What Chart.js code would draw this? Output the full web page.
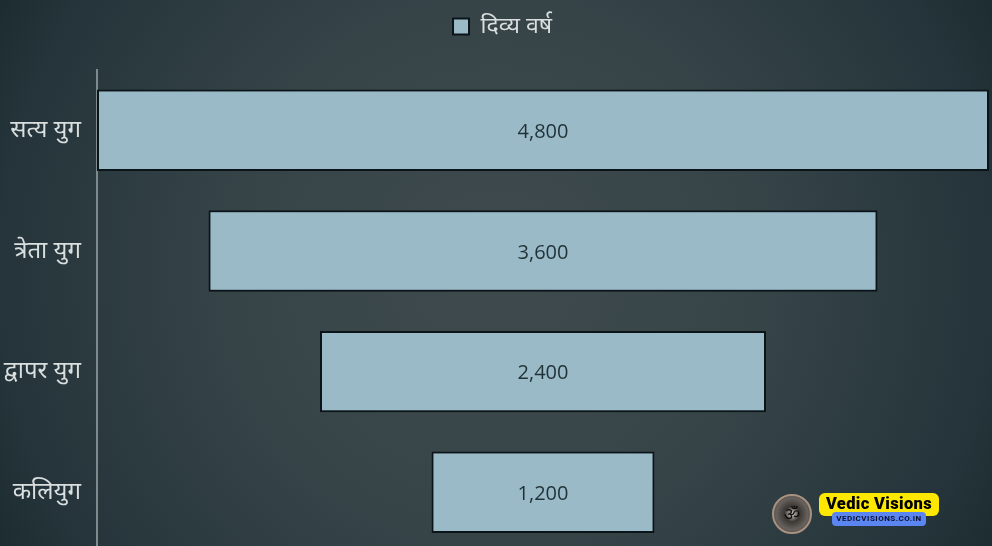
<!DOCTYPE html>
<html>
<head>
<meta charset="utf-8">
<script src="https://cdn.jsdelivr.net/npm/chart.js@4"></script>
<style>
html, body { margin: 0; padding: 0; width: 992px; height: 546px; overflow: hidden; }
body { position: relative; background: radial-gradient(circle 566px at 50% 50%, #3f4a4d 0%, #364448 48%, #24343a 88%, #1d2c30 100%); }
#chart { position: absolute; left: 0; top: 0; }
#medal { position: absolute; left: 772px; top: 494px; width: 40px; height: 40px; box-sizing: border-box; border-radius: 50%; border: 2px solid #a8917f;
  background: radial-gradient(circle, #d8d2c8 0%, #3a3633 30%, #67625d 62%, #2f2c2a 100%); color: #0a0a0a; font: 18px/34px "Noto Sans", sans-serif; text-align: center; }
#brand { position: absolute; left: 819px; top: 493px; width: 120px; height: 23px; border-radius: 6px; background: #ffe800; color: #000;
  font: 900 16.5px/22px Roboto, sans-serif; text-align: center; letter-spacing: .35px; }
#site { position: absolute; left: 832px; top: 512px; width: 94px; height: 14px; border-radius: 4px; background: #5b86f2; color: #0a1030;
  font: bold 8px/14px Roboto, sans-serif; text-align: center; letter-spacing: .5px; }
</style>
</head>
<body>
<canvas id="chart" width="992" height="575"></canvas>
<div id="medal">ॐ</div>
<div id="brand">Vedic Visions</div>
<div id="site">VEDICVISIONS.CO.IN</div>
<script>
const categories = ['सत्य युग', 'त्रेता युग', 'द्वापर युग', 'कलियुग'];
const seriesName = 'दिव्य वर्ष';
const values = [4800, 3600, 2400, 1200];

// legend sits a bit right of centre and has extra room under it
const legendShift = {
    id: 'legendShift',
    beforeInit(chart) {
        const legend = chart.legend;
        const fit = legend.fit;
        const draw = legend.draw;
        legend.fit = function () {
            fit.call(this);
            this.height += 22;
        };
        legend.draw = function () {
            chart.ctx.save();
            chart.ctx.translate(8, 0);
            draw.call(this);
            chart.ctx.restore();
        };
    }
};

const barLabels = {
    id: 'barLabels',
    afterDatasetsDraw(chart) {
        const ctx = chart.ctx;
        ctx.save();
        ctx.fillStyle = '#1f3238';
        ctx.font = '500 20px "Open Sans", sans-serif';
        ctx.textAlign = 'center';
        ctx.textBaseline = 'middle';
        chart.getDatasetMeta(0).data.forEach((bar, i) => {
            const mid = chart.scales.x.getPixelForValue(0);
            ctx.fillText(values[i].toLocaleString('en-US'), mid, bar.y + 2);
        });
        ctx.restore();
    }
};

new Chart(document.getElementById('chart'), {
    type: 'bar',
    data: {
        labels: categories,
        datasets: [{
            label: seriesName,
            data: values.map(v => [-v / 2, v / 2]),
            backgroundColor: '#9bbac8',
            borderColor: '#0b1418',
            borderWidth: 2,
            borderSkipped: false,
            barPercentage: 0.675,
            categoryPercentage: 1
        }]
    },
    options: {
        indexAxis: 'y',
        responsive: false,
        animation: false,
        layout: { padding: { right: 3 } },
        plugins: {
            legend: {
                position: 'top',
                labels: {
                    color: '#d9dedf',
                    font: { family: '"Noto Sans", "Noto Sans Devanagari", sans-serif', size: 23 },
                    boxWidth: 16,
                    boxHeight: 16,
                    padding: 15
                }
            },
            tooltip: { enabled: false }
        },
        scales: {
            x: { display: false, min: -2400, max: 2400 },
            y: {
                afterFit(scale) { scale.width = 97; },
                grid: { display: false },
                border: { color: '#7f8a8c', width: 2 },
                ticks: {
                    color: '#d9dedf',
                    font: { family: '"Noto Sans", "Noto Sans Devanagari", sans-serif', size: 24 },
                    padding: 8
                }
            }
        }
    },
    plugins: [legendShift, barLabels]
});
</script>
</body>
</html>
